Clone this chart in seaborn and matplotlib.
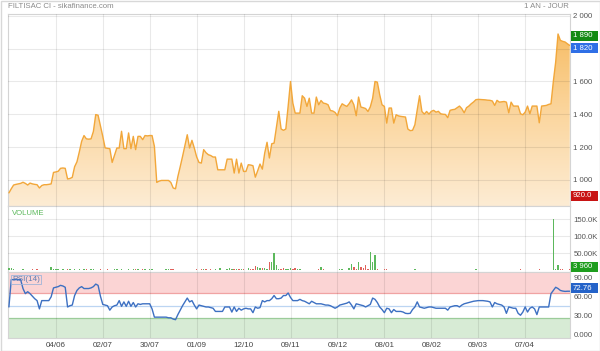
import numpy as np
import pandas as pd
import matplotlib
matplotlib.use("Agg")
import matplotlib.pyplot as plt
import matplotlib.transforms as mtrans
from matplotlib.colors import LinearSegmentedColormap
from matplotlib.patches import Rectangle
import seaborn as sns

# ---------------- data (one bar per trading day) ----------------
price = [
    920, 945, 968, 972, 975, 978, 985, 978, 968, 980,
    975, 972, 970, 950, 965, 970, 970, 972, 975, 1045,
    1048, 1052, 1070, 1072, 1070, 1005, 1008, 1015, 1080, 1110,
    1170, 1235, 1270, 1250, 1248, 1250, 1295, 1398, 1394, 1330,
    1265, 1195, 1192, 1190, 1106, 1150, 1194, 1194, 1296, 1190,
    1190, 1286, 1190, 1265, 1184, 1265, 1265, 1245, 1270, 1268,
    1270, 1270, 1204, 984, 992, 996, 996, 996, 996, 984,
    950, 945, 1020, 1080, 1143, 1210, 1275, 1194, 1241, 1194,
    1140, 1106, 1102, 1184, 1165, 1153, 1148, 1139, 1139, 1061,
    1061, 1061, 1061, 1126, 1126, 1126, 1041, 1126, 1041, 1102,
    1051, 1051, 1092, 1090, 1086, 1016, 1055, 1096, 1065, 1163,
    1229, 1133, 1220, 1224, 1320, 1418, 1310, 1302, 1310, 1450,
    1600, 1468, 1407, 1407, 1407, 1513, 1498, 1448, 1498, 1407,
    1407, 1505, 1458, 1484, 1468, 1465, 1458, 1423, 1420, 1411,
    1391, 1438, 1464, 1455, 1448, 1465, 1488, 1458, 1391, 1505,
    1444, 1440, 1435, 1417, 1445, 1498, 1600, 1596, 1520, 1458,
    1448, 1346, 1438, 1438, 1346, 1397, 1390, 1387, 1385, 1383,
    1310, 1300, 1302, 1336, 1427, 1513, 1417, 1401, 1417, 1401,
    1418, 1424, 1413, 1418, 1403, 1400, 1399, 1379, 1424, 1428,
    1430, 1440, 1450, 1434, 1409, 1440, 1450, 1464, 1475, 1489,
    1491, 1490, 1489, 1488, 1486, 1485, 1481, 1454, 1485, 1474,
    1476, 1478, 1474, 1409, 1474, 1450, 1450, 1450, 1403, 1397,
    1413, 1450, 1403, 1450, 1450, 1450, 1348, 1450, 1452, 1454,
    1460, 1464, 1600, 1719, 1890, 1851, 1845, 1841, 1830, 1820,
]

volume = [
    7500, 6000, 4500, 2200, 1200, 1800, 3000, 1400, 600, 2000,
    4500, 1600, 3600, 1200, 600, 2800, 1800, 1000, 9000, 4500,
    4000, 3000, 1600, 3800, 1200, 3000, 4500, 1800, 3600, 2400,
    4000, 1400, 3000, 4500, 1800, 3600, 4500, 2400, 1200, 3000,
    1600, 2400, 4000, 1000, 2000, 4500, 5000, 1600, 3000, 800,
    2400, 4000, 1800, 3600, 4500, 3000, 1600, 4500, 5000, 2000,
    3600, 4500, 1800, 1200, 2400, 800, 1600, 4000, 5000, 5500,
    4000, 1800, 800, 0, 400, 0, 1200, 800, 600, 1600,
    3000, 1200, 5500, 5000, 5000, 2400, 4000, 1200, 3000, 800,
    7000, 1800, 2400, 4500, 6000, 4000, 5500, 3600, 4000, 5000,
    4000, 2000, 8000, 3000, 5000, 12000, 11000, 7000, 6000, 6500,
    5000, 25000, 25000, 52000, 16000, 4000, 5000, 7000, 5500, 4000,
    6500, 5500, 7000, 4000, 3000, 1600, 1200, 2400, 800, 1800,
    1200, 2400, 5000, 10000, 3000, 1800, 2400, 1200, 600, 1000,
    1800, 3000, 4000, 1200, 2400, 6000, 20000, 9000, 3000, 25000,
    10000, 6000, 17000, 4500, 55000, 25000, 45000, 4000, 2000, 1000,
    3000, 4000, 1600, 1000, 2000, 1200, 600, 1600, 2400, 800,
    1200, 600, 1800, 3000, 1400, 800, 600, 1600, 1000, 600,
    800, 1200, 600, 400, 1000, 600, 800, 1600, 600, 1200,
    800, 600, 1000, 400, 800, 1200, 600, 1000, 1600, 4500,
    1000, 600, 800, 400, 600, 1000, 1600, 2400, 800, 600,
    1200, 400, 800, 600, 1000, 1800, 800, 600, 3000, 1200,
    800, 600, 2400, 1000, 600, 1600, 3000, 800, 1200, 600,
    1000, 1600, 150000, 5000, 17000, 4000, 3000, 2000, 1500, 3960,
]

rsi = [
    48, 91, 91, 91, 91, 91, 77, 69, 72, 69,
    65, 61, 58, 45, 58, 58, 58, 58, 64, 78,
    79, 80, 82, 81, 79, 48, 50, 51, 66, 74,
    78, 80, 77, 77, 77, 78, 80, 84, 82, 65,
    52, 51, 50, 43, 48, 50, 51, 58, 49, 56,
    49, 57, 49, 55, 48, 53, 52, 53, 53, 53,
    53, 45, 32, 32, 32, 32, 32, 32, 31, 31,
    29, 28, 36, 43, 50, 56, 62, 56, 58, 51,
    45, 51, 50, 49, 48, 48, 47, 46, 41, 41,
    41, 41, 48, 48, 48, 40, 48, 41, 46, 43,
    45, 46, 45, 45, 39, 48, 46, 47, 58, 56,
    58, 58, 61, 66, 61, 61, 62, 66, 66, 70,
    63, 58, 58, 58, 60, 58, 57, 55, 53, 57,
    55, 53, 53, 53, 52, 51, 51, 50, 48, 46,
    48, 51, 52, 53, 54, 56, 51, 45, 53, 52,
    51, 50, 48, 50, 52, 62, 60, 55, 48, 44,
    39, 46, 45, 39, 44, 41, 41, 41, 40, 38,
    37.6, 38, 44, 48, 56, 48, 47, 46, 47, 48,
    48, 47, 46, 46, 46, 46, 46, 43, 48, 49,
    50, 50, 48, 51, 53, 54, 55, 56, 57, 57.5,
    58, 58, 58, 57.5, 57, 56, 48, 55, 53, 52,
    51, 48, 38, 48, 47, 46, 46, 38, 35, 40,
    48, 40, 46, 48, 45, 36, 48, 48, 48, 48,
    48, 69, 74, 79, 77, 74, 73, 72.5, 72.76, 72.76,
]

x_tick_pos = [20, 40, 60, 80, 100, 120, 140, 160, 180, 200, 220]
x_tick_labels = ["04/06", "02/07", "30/07", "01/09", "12/10", "09/11",
                 "09/12", "08/01", "08/02", "09/03", "07/04"]
price_ticks = [1000, 1200, 1400, 1600, 1800, 2000]
price_tick_labels = ["1 000", "1 200", "1 400", "1 600", "", "2 000"]
vol_ticks = [50000, 100000, 150000]
vol_tick_labels = ["50.00K", "100.0K", "150.0K"]
rsi_ticks = [0, 30, 60, 90]
rsi_tick_labels = ["0.000", "30.00", "60.00", "90.00"]

title_left = "FILTISAC CI - sikafinance.com"
title_right = "1 AN - JOUR"
last_price_label, last_price = "1 820", 1820
high_label, high_value = "1 890", 1890
low_label, low_value = "920.0", 920
last_vol_label = "3 960"
last_rsi_label = "72.76"

# ---------------- styling ----------------
sns.set_theme(style="white")
plt.rcParams['font.family'] = ['Liberation Sans', 'DejaVu Sans']

n = len(price)
df = pd.DataFrame({"i": np.arange(n), "price": price, "volume": volume, "rsi": rsi})
df["up"] = df["price"].diff().fillna(0) >= 0

W, H = 600, 351
fig = plt.figure(figsize=(W / 100, H / 100), dpi=100)
fig.patch.set_facecolor("white")

def frac_box(left, top, right, bottom):
    return [left / W, 1 - bottom / H, (right - left) / W, (bottom - top) / H]

ax1 = fig.add_axes(frac_box(7.5, 14, 570, 206))
ax2 = fig.add_axes(frac_box(7.5, 206, 570, 271.5))
ax3 = fig.add_axes(frac_box(7.5, 272, 570, 337.5))

xlim = (-0.6, n - 0.9)
p_lim = (840, 2012)
v_lim = (-3000, 189000)
r_lim = (0, 103)

grid_kw = dict(color="black", alpha=0.085, lw=0.8)
label_color = "#555555"
tick_fs = 5.6

for ax in (ax1, ax2, ax3):
    ax.set_facecolor("white")
    for s in ax.spines.values():
        s.set_color("#d4d4d4")
        s.set_linewidth(0.8)
    ax.set_xticks(x_tick_pos)
    ax.yaxis.tick_right()
    ax.tick_params(axis="both", length=0, labelsize=tick_fs, colors=label_color, pad=2.5)
    ax.set_axisbelow(False)

# ---- price panel ----
sns.lineplot(data=df, x="i", y="price", ax=ax1, color="#f2a73a", lw=1.0, zorder=3)
cmap = LinearSegmentedColormap.from_list("fill", ["#fdecd4", "#fbd59c", "#f6b85a"])
grad = np.linspace(0, 1, 256).reshape(-1, 1)
im = ax1.imshow(grad, extent=[xlim[0], xlim[1], p_lim[0], p_lim[1]], origin="lower",
                aspect="auto", cmap=cmap, zorder=1)
coll = ax1.fill_between(df["i"], df["price"], p_lim[0], facecolor="none", edgecolor="none")
im.set_clip_path(coll.get_paths()[0], transform=ax1.transData)
ax1.set_xlim(*xlim)
ax1.set_ylim(*p_lim)
ax1.set_yticks(price_ticks)
ax1.set_yticklabels(price_tick_labels)
ax1.set_xticklabels([])
ax1.grid(True, **grid_kw)
ax1.set_xlabel("")
ax1.set_ylabel("")

# ---- volume panel ----
vol_colors = np.where(df["up"], "#5cb85c", "#e0605a")
ax2.bar(df["i"], df["volume"], width=0.6, color=vol_colors, zorder=3, linewidth=0)
ax2.set_xlim(*xlim)
ax2.set_ylim(*v_lim)
ax2.set_yticks(vol_ticks)
ax2.set_yticklabels(vol_tick_labels)
ax2.set_xticklabels([])
ax2.grid(True, **grid_kw)
ax2.text(0.008, 0.885, "VOLUME", transform=ax2.transAxes, fontsize=5.6,
         color="#5cb85c", va="center", ha="left")

# ---- RSI panel ----
ax3.axhspan(70, r_lim[1], color="#fbd4d4", lw=0, zorder=0.5)
ax3.axhline(70, color="#f0a3a3", lw=0.9, zorder=0.6)
ax3.axhspan(r_lim[0], 30, color="#d7ebd5", lw=0, zorder=0.5)
ax3.axhline(30, color="#9ccc9a", lw=0.9, zorder=0.6)
ax3.axhline(50, color="#bcd5f2", lw=0.9, zorder=0.6)
sns.lineplot(data=df, x="i", y="rsi", ax=ax3, color="#3d70c2", lw=1.0, zorder=3)
ax3.set_xlim(*xlim)
ax3.set_ylim(*r_lim)
ax3.set_yticks(rsi_ticks)
ax3.set_yticklabels(rsi_tick_labels)
ax3.set_xticklabels(x_tick_labels)
ax3.grid(True, axis="x", **grid_kw)
ax3.set_xlabel("")
ax3.set_ylabel("")
ax3.tick_params(axis="x", labelsize=5.8, colors="#444444", pad=3)
shift = mtrans.ScaledTranslation(0, 2 / 72, fig.dpi_scale_trans)
for lab in ax3.get_yticklabels():
    lab.set_transform(lab.get_transform() + shift)
ax3.text(0.008, 0.885, "RSI(14)", transform=ax3.transAxes, fontsize=5.8,
         color="#5d7cb3", va="center", ha="left",
         bbox=dict(boxstyle="square,pad=0.15", fc="none", ec="#9fb4d8", lw=0.6))

# ---- value tags on the right ----
box_w, box_h = 27, 10

def tag(ax, value, text, fc, dy_px=0):
    y_disp = ax.transData.transform((0, value))[1]
    bb = ax.get_window_extent()
    y_disp = min(max(y_disp, bb.y0 + box_h / 2), bb.y1 - box_h / 2) + dy_px
    yc = y_disp / fig.bbox.height
    x0 = 571 / W
    fig.patches.append(Rectangle((x0, yc - box_h / 2 / H), box_w / W, box_h / H,
                                 transform=fig.transFigure, facecolor=fc,
                                 edgecolor="none", zorder=5))
    fig.text(x0 + 2 / W, yc, text, fontsize=tick_fs, color="white", va="center",
             ha="left", zorder=6)

tag(ax1, high_value, high_label, "#138a13", dy_px=-2)
tag(ax1, last_price, last_price_label, "#2f6fe6", dy_px=-3)
tag(ax1, low_value, low_label, "#c81414", dy_px=-3)
tag(ax2, volume[-1], last_vol_label, "#1f9e1f")
tag(ax3, rsi[-1], last_rsi_label, "#2463c9", dy_px=3)

# ---- titles and frame ----
fig.text(8 / W, 1 - 6 / H, title_left, fontsize=5.6, color="#8a8a8a", va="center", ha="left")
fig.text(569 / W, 1 - 6 / H, title_right, fontsize=5.6, color="#8a8a8a", va="center", ha="right")
fig.patches.append(Rectangle((0.5 / W, 0.5 / H), 1 - 1 / W, 1 - 1 / H, transform=fig.transFigure,
                             fill=False, edgecolor="#d8d8d8", lw=1, zorder=0))

fig.savefig("out.png", dpi=100, facecolor="white")
